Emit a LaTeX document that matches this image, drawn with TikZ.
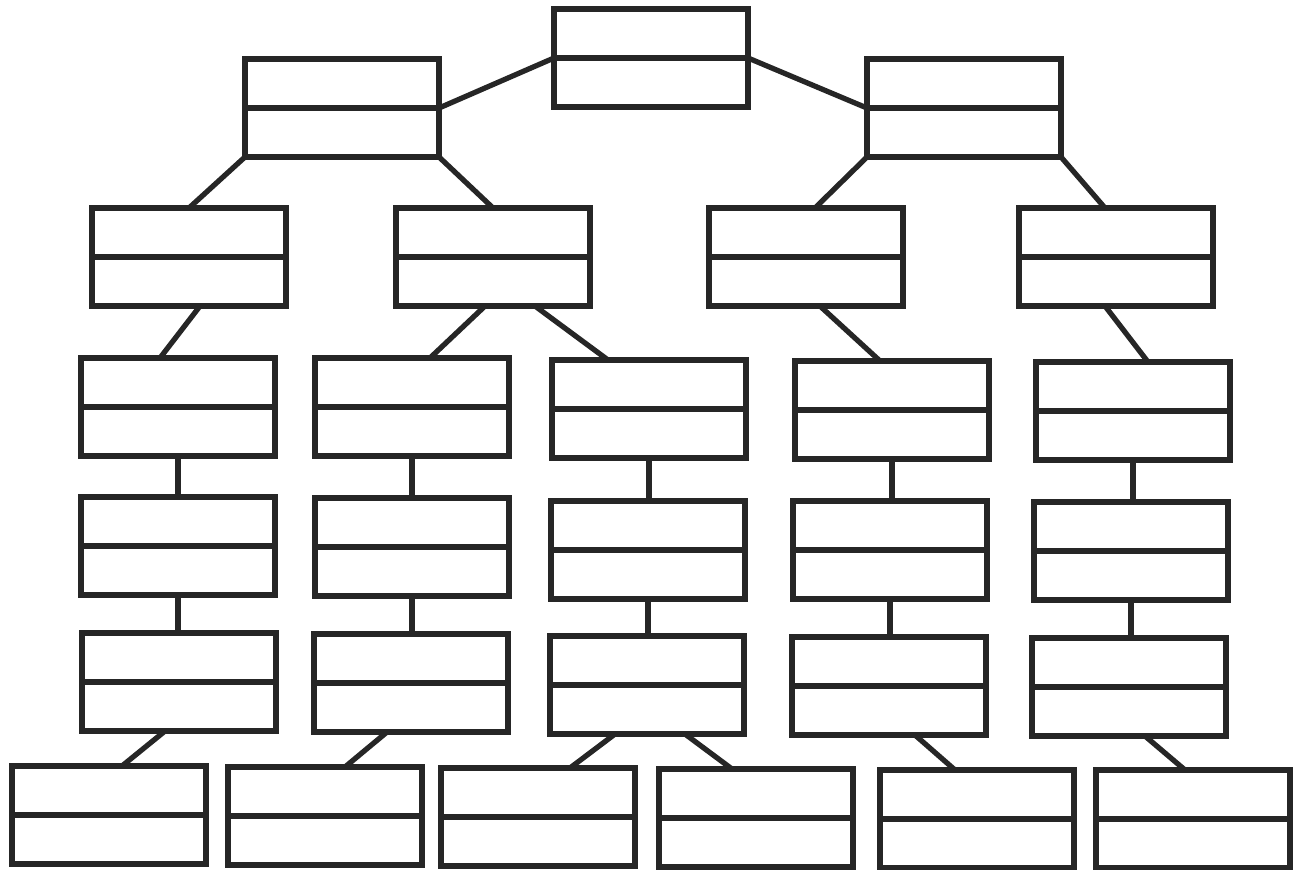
\documentclass[tikz,border=0pt]{standalone}
\usetikzlibrary{calc}
\begin{document}
\begin{tikzpicture}[x={(0.01cm,0cm)},y={(0cm,-0.01cm)},line width=1.5pt,color=black!85,every node/.style={draw, line width=1.5pt, minimum width=1.94cm, minimum height=0.98cm, inner sep=0pt, outer sep=0pt, path picture={\draw[line width=1.5pt] (path picture bounding box.west) -- (path picture bounding box.east);}}]
\useasboundingbox (0,0) rectangle (1293,869);
\node (root) at (651,58) {};
\node (a) at (342,108) {};
\node (b) at (964,108) {};
\node (c1) at (189,257) {};
\node (c2) at (493,257) {};
\node (c3) at (806,257) {};
\node (c4) at (1116,257) {};
\node (d1) at (178,407) {};
\node (d2) at (412,407) {};
\node (d3) at (649,409) {};
\node (d4) at (892,410) {};
\node (d5) at (1133,411) {};
\node (e1) at (178,546) {};
\node (e2) at (412,547) {};
\node (e3) at (648,550) {};
\node (e4) at (890,550) {};
\node (e5) at (1131,551) {};
\node (f1) at (179,682) {};
\node (f2) at (411,683) {};
\node (f3) at (647,685) {};
\node (f4) at (889,686) {};
\node (f5) at (1129,687) {};
\node (g1) at (109,815) {};
\node (g2) at (325,816) {};
\node (g3) at (538,817) {};
\node (g4) at (756,818) {};
\node (g5) at (977,819) {};
\node (g6) at (1193,819) {};
\draw (root.west) -- (a.east);
\draw (root.east) -- (b.west);
\draw (a.south west) -- (c1.north);
\draw (a.south east) -- (c2.north);
\draw (b.south west) -- ($(c3.north)+(9,0)$);
\draw (b.south east) -- ($(c4.north)+(-11,0)$);
\draw ($(c1.south)+(11,0)$) -- ($(d1.north)+(-18,0)$);
\draw ($(c2.south)+(-8,0)$) -- ($(d2.north)+(18,0)$);
\draw ($(c2.south)+(42,0)$) -- ($(d3.north)+(-41,0)$);
\draw ($(c3.south)+(14,0)$) -- ($(d4.north)+(-12,0)$);
\draw ($(c4.south)+(-11,0)$) -- ($(d5.north)+(15,0)$);
\draw (d1.south) -- (d1.south |- e1.north);
\draw (d2.south) -- (d2.south |- e2.north);
\draw (d3.south) -- (d3.south |- e3.north);
\draw (d4.south) -- (d4.south |- e4.north);
\draw (d5.south) -- (d5.south |- e5.north);
\draw (e1.south) -- (e1.south |- f1.north);
\draw (e2.south) -- (e2.south |- f2.north);
\draw (e3.south) -- (e3.south |- f3.north);
\draw (e4.south) -- (e4.south |- f4.north);
\draw (e5.south) -- (e5.south |- f5.north);
\draw ($(f1.south)+(-14,0)$) -- ($(g1.north)+(13,0)$);
\draw ($(f2.south)+(-24,0)$) -- ($(g2.north)+(20,0)$);
\draw ($(f3.south)+(-32,0)$) -- ($(g3.north)+(32,0)$);
\draw ($(f3.south)+(38,0)$) -- ($(g4.north)+(-24,0)$);
\draw ($(f4.south)+(26,0)$) -- ($(g5.north)+(-22,0)$);
\draw ($(f5.south)+(16,0)$) -- ($(g6.north)+(-8,0)$);
\end{tikzpicture}
\end{document}
